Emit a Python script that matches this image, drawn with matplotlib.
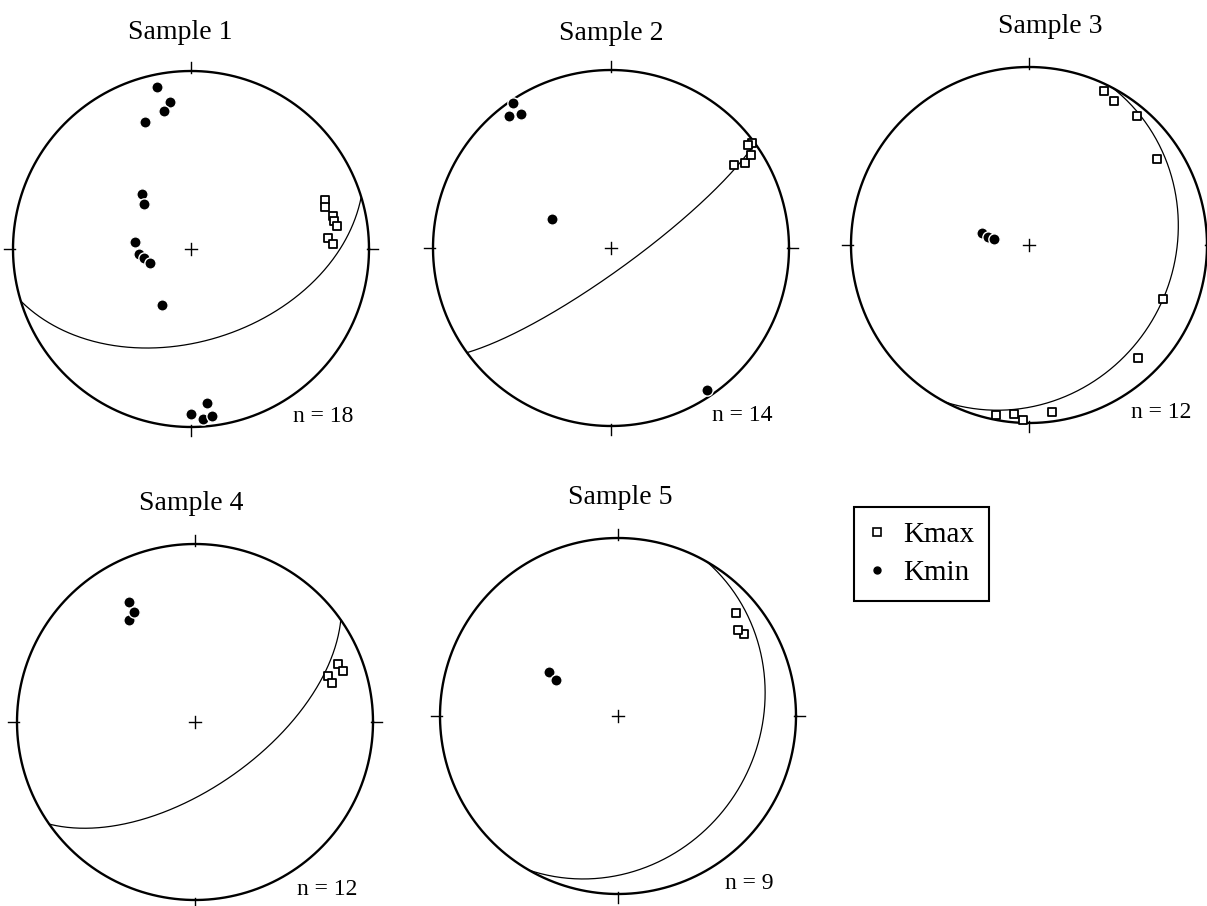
import numpy as np
import matplotlib
matplotlib.use('Agg')
import matplotlib.pyplot as plt
from matplotlib.lines import Line2D

plt.rcParams['font.family'] = ['Liberation Serif', 'DejaVu Serif']

# titles and specimen counts
titles = ['Sample 1', 'Sample 2', 'Sample 3', 'Sample 4', 'Sample 5']
n_labels = ['n = 18', 'n = 14', 'n = 12', 'n = 12', 'n = 9']

# Kmax / Kmin axes, trend & plunge in degrees
s1_kmax_trend = [70, 72.5, 77, 79, 81, 85.5, 88]
s1_kmax_plunge = [21, 22, 19.5, 19, 18, 24, 21]
s1_kmin_trend = [348, 352, 349, 340, 318, 314, 277, 265, 259, 251, 207, 174, 176, 180, 173]
s1_kmin_plunge = [8, 18, 22, 25, 56, 60, 64, 66, 68, 70, 61, 14, 5, 8, 6]

s2_kmax_trend = [56, 57.5, 56.5, 53.5, 53]
s2_kmax_plunge = [18, 12, 6, 1.3, 4]
s2_kmin_trend = [326, 322.5, 326, 296, 146]
s2_kmin_plunge = [2, 7, 10, 60, 4]

s3_kmax_trend = [26, 30.5, 40, 56, 112, 136, 172, 182, 191, 185]
s3_kmax_plunge = [4, 7, 6, 14.5, 20, 13, 6, 2, 3, 5]
s3_kmin_trend = [284, 281.5, 280]
s3_kmin_plunge = [68, 71, 74]

s4_kmax_trend = [68, 71, 71, 74]
s4_kmax_plunge = [14.5, 13, 22, 21]
s4_kmin_trend = [331, 327, 331]
s4_kmin_plunge = [24, 32, 30]

s5_kmax_trend = [49, 57, 54.5]
s5_kmax_plunge = [13, 17, 18]
s5_kmin_trend = [302.5, 300]
s5_kmin_plunge = [52, 57]

# mean fabric plane per sample (dip direction, dip)
plane_dipdir = [163, 144, 118, 145, 120]
plane_dip = [47, 80, 20, 60, 22]

kmax_trend = [s1_kmax_trend, s2_kmax_trend, s3_kmax_trend, s4_kmax_trend, s5_kmax_trend]
kmax_plunge = [s1_kmax_plunge, s2_kmax_plunge, s3_kmax_plunge, s4_kmax_plunge, s5_kmax_plunge]
kmin_trend = [s1_kmin_trend, s2_kmin_trend, s3_kmin_trend, s4_kmin_trend, s5_kmin_trend]
kmin_plunge = [s1_kmin_plunge, s2_kmin_plunge, s3_kmin_plunge, s4_kmin_plunge, s5_kmin_plunge]


def project(trend, plunge):
    # equal-area, lower hemisphere, primitive radius 1
    t = np.radians(np.asarray(trend, dtype=float))
    p = np.radians(np.asarray(plunge, dtype=float))
    r = np.sqrt(2) * np.sin((np.pi / 2 - p) / 2)
    return r * np.sin(t), r * np.cos(t)


def great_circle(dipdir, dip):
    dd = np.radians(dipdir)
    d = np.radians(dip)
    s = dd - np.pi / 2
    a = np.linspace(0, np.pi, 300)
    e = np.cos(a) * np.sin(s) + np.sin(a) * np.sin(dd) * np.cos(d)
    n = np.cos(a) * np.cos(s) + np.sin(a) * np.cos(dd) * np.cos(d)
    dn = np.sin(a) * np.sin(d)
    trend = np.degrees(np.arctan2(e, n))
    plunge = np.degrees(np.arcsin(np.clip(dn, -1, 1)))
    return project(trend, plunge)


W, H = 1207, 906
fig = plt.figure(figsize=(W / 100, H / 100), dpi=100)

# layout in pixels: net centres, radius, title shift
centres = [(191, 249), (611, 248), (1029, 245), (195, 722), (618, 716)]
R = 178
title_dx = [-0.06, 0.0, 0.12, -0.02, 0.01]
title_dy = [1.215, 1.205, 1.225, 1.23, 1.225]

for i in range(5):
    cx, cy = centres[i]
    ax = fig.add_axes([(cx - R) / W, (H - cy - R) / H, 2 * R / W, 2 * R / H])
    ax.set_xlim(-1, 1)
    ax.set_ylim(-1, 1)
    ax.set_aspect('equal')
    ax.axis('off')

    th = np.linspace(0, 2 * np.pi, 400)
    ax.plot(np.cos(th), np.sin(th), color='black', lw=1.7, clip_on=False)
    # N E S W ticks
    ax.plot([0, 0], [0.99, 1.05], color='black', lw=1.0, clip_on=False)
    ax.plot([0, 0], [-0.99, -1.05], color='black', lw=1.0, clip_on=False)
    ax.plot([0.99, 1.05], [0, 0], color='black', lw=1.0, clip_on=False)
    ax.plot([-0.99, -1.05], [0, 0], color='black', lw=1.0, clip_on=False)
    # centre cross
    ax.plot([-0.035, 0.035], [0, 0], color='black', lw=1.0)
    ax.plot([0, 0], [-0.035, 0.035], color='black', lw=1.0)

    gx, gy = great_circle(plane_dipdir[i], plane_dip[i])
    ax.plot(gx, gy, color='black', lw=0.9, clip_on=False)

    x, y = project(kmax_trend[i], kmax_plunge[i])
    ax.scatter(x, y, marker='s', s=32, facecolors='white', edgecolors='black',
               linewidths=1.3, zorder=3, clip_on=False)
    x, y = project(kmin_trend[i], kmin_plunge[i])
    ax.scatter(x, y, marker='o', s=66, facecolors='black', edgecolors='white',
               linewidths=1.0, zorder=4, clip_on=False)

    ax.text(title_dx[i], title_dy[i], titles[i], ha='center', va='center', fontsize=20)
    ax.text(0.74, -0.94, n_labels[i], ha='center', va='center', fontsize=17)

handles = [
    Line2D([], [], marker='s', ls='none', mfc='white', mec='black', mew=1.2, ms=6),
    Line2D([], [], marker='o', ls='none', mfc='black', mec='black', ms=5),
]
leg = fig.legend(handles, ['Kmax', 'Kmin'], loc='upper left',
                 bbox_to_anchor=(854 / W, 1 - 507 / H), borderaxespad=0,
                 fontsize=21, frameon=True, fancybox=False, framealpha=1,
                 edgecolor='black', handlelength=0.6, handletextpad=0.6,
                 labelspacing=0.4, borderpad=0.5)
leg.get_frame().set_linewidth(1.5)

fig.savefig('out.png', dpi=100, facecolor='white')
